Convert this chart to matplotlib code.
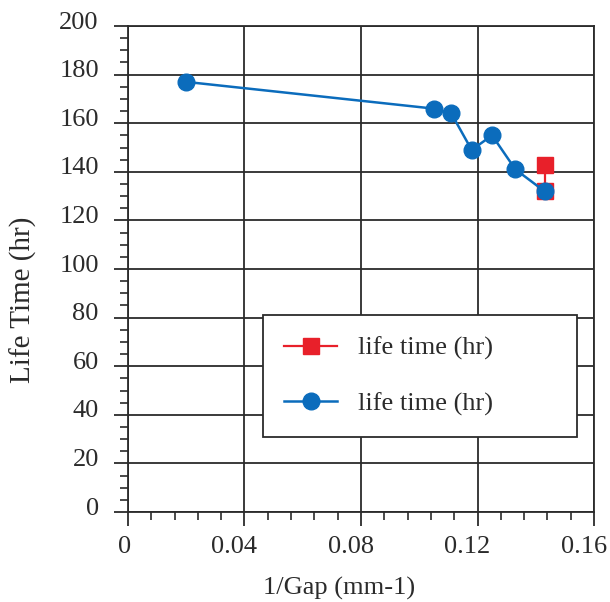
import matplotlib
matplotlib.use("Agg")
import matplotlib.pyplot as plt
import matplotlib.transforms as mtransforms
from matplotlib.ticker import MultipleLocator

# values
inv_gap = [0.02, 0.105, 0.111, 0.118, 0.125, 0.133, 0.143]
life_blue = [177, 166, 164, 149, 155, 141, 132]
inv_gap_red = [0.143, 0.143]
life_red = [143, 132]
xtick_vals = [0, 0.04, 0.08, 0.12, 0.16]
xtick_text = ["0", "0.04", "0.08", "0.12", "0.16"]

blue = "#0b6cbc"
red = "#e8202a"
ink = "#2b2b2b"

plt.rcParams["font.family"] = ["Liberation Serif", "DejaVu Serif"]
plt.rcParams["font.size"] = 19
plt.rcParams["text.color"] = ink

fig = plt.figure(figsize=(6.1, 6.02), dpi=100)
ax = fig.add_axes([0.2098, 0.1495, 0.764, 0.8073])

ax.plot(inv_gap_red, life_red, color=red, lw=1.6, marker="s", ms=11.5,
        label="life time (hr)", zorder=3)
ax.plot(inv_gap, life_blue, color=blue, lw=1.8, marker="o", ms=12,
        label="life time (hr)", zorder=4)

ax.set_xlim(0, 0.16)
ax.set_ylim(0, 200)
ax.xaxis.set_minor_locator(MultipleLocator(0.008))
ax.yaxis.set_major_locator(MultipleLocator(20))
ax.yaxis.set_minor_locator(MultipleLocator(5))
ax.set_xticks(xtick_vals)
ax.set_xticklabels(xtick_text)

ax.grid(True, which="major", color=ink, lw=1.3)
ax.set_axisbelow(True)
for s in ax.spines.values():
    s.set_color(ink)
    s.set_linewidth(1.3)

ax.tick_params(which="major", direction="out", length=10, width=1.3,
               color=ink, labelcolor=ink, pad=7)
ax.tick_params(axis="y", which="major", pad=11)
ax.tick_params(which="minor", direction="out", length=6, width=1.2, color=ink)

# nudge tick labels like in the reference
for i, lab in enumerate(ax.get_xticklabels()):
    dx = -3 if i == 0 else -10
    lab.set_transform(lab.get_transform() +
                      mtransforms.ScaledTranslation(dx / 100, 0, fig.dpi_scale_trans))
for lab in ax.get_yticklabels():
    lab.set_transform(lab.get_transform() +
                      mtransforms.ScaledTranslation(0, 6 / 100, fig.dpi_scale_trans))

ax.set_xlabel("1/Gap (mm-1)", color=ink)
ax.set_ylabel("Life Time (hr)", color=ink, fontsize=21)
ax.xaxis.set_label_coords(0.453, -0.134)
ax.yaxis.set_label_coords(-0.196, 0.436)

leg = ax.legend(loc="lower left", bbox_to_anchor=(0.29, 0.154, 0.673, 0.256),
                mode="expand", borderaxespad=0, borderpad=0.8,
                labelspacing=1.2, handlelength=2.0, handletextpad=0.8,
                fancybox=False, framealpha=1, edgecolor=ink)
leg.get_frame().set_linewidth(1.3)

fig.savefig("out.png", dpi=100)
